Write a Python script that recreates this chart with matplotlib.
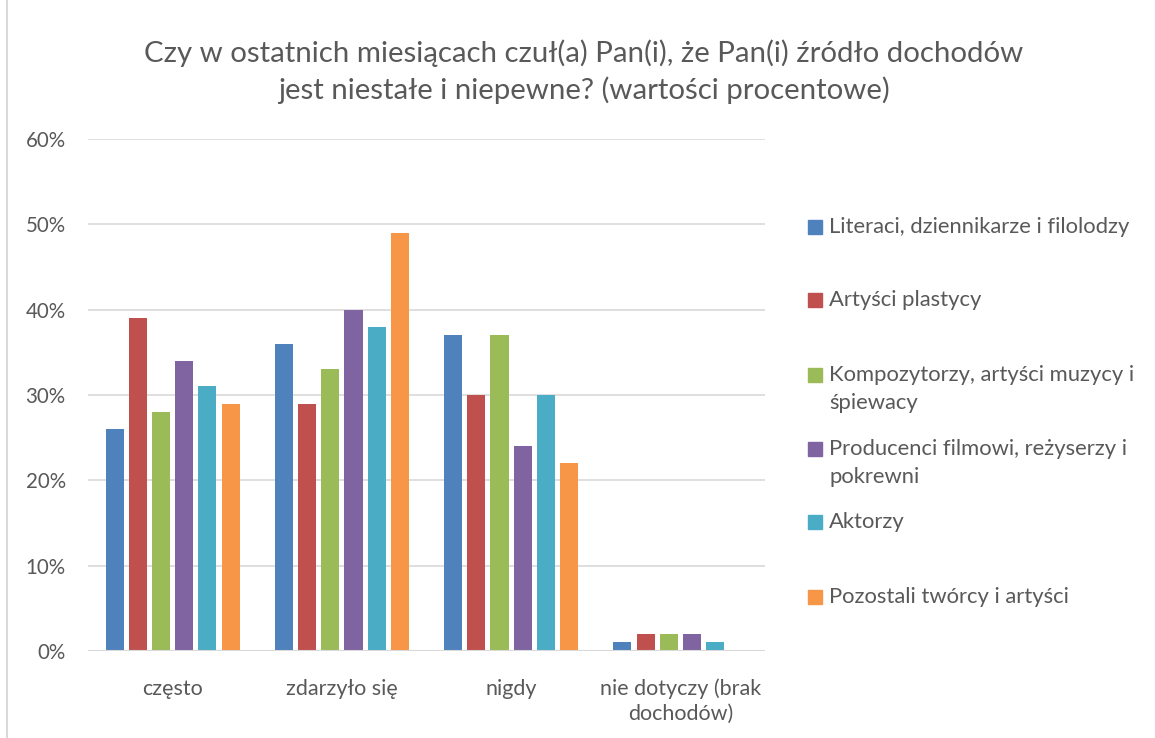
import matplotlib
matplotlib.use("Agg")
import matplotlib.pyplot as plt
import matplotlib.patches as mpatches
from matplotlib.ticker import FuncFormatter
import numpy as np

plt.rcParams['font.family'] = ['Lato', 'DejaVu Sans']

title = "Czy w ostatnich miesiącach czuł(a) Pan(i), że Pan(i) źródło dochodów\njest niestałe i niepewne? (wartości procentowe)"
categories = ["często", "zdarzyło się", "nigdy", "nie dotyczy (brak\ndochodów)"]
series = ["Literaci, dziennikarze i filolodzy",
          "Artyści plastycy",
          "Kompozytorzy, artyści muzycy i\nśpiewacy",
          "Producenci filmowi, reżyserzy i\npokrewni",
          "Aktorzy",
          "Pozostali twórcy i artyści"]
literaci = [26, 36, 37, 1]
plastycy = [39, 29, 30, 2]
muzycy = [28, 33, 37, 2]
filmowcy = [34, 40, 24, 2]
aktorzy = [31, 38, 30, 1]
pozostali = [29, 49, 22, 0]
values = [literaci, plastycy, muzycy, filmowcy, aktorzy, pozostali]
colors = ["#4F81BD", "#C0504D", "#9BBB59", "#8064A2", "#4BACC6", "#F79646"]

txt = "#595959"
grid = "#D9D9D9"

W, H = 1155, 738
fig = plt.figure(figsize=(W / 100, H / 100), dpi=100)
ax = fig.add_axes([88 / W, 1 - 651 / H, (765 - 88) / W, (651 - 139) / H])

x = np.arange(len(categories))
pitch = 0.137
width = 0.107
for i, (vals, col) in enumerate(zip(values, colors)):
    offs = (i - 2.5) * pitch
    ax.bar(x + offs, vals, width=width, color=col, zorder=3)

ax.set_xlim(-0.5, len(categories) - 0.5)
ax.set_ylim(0, 60)
ax.set_yticks(range(0, 61, 10))
ax.yaxis.set_major_formatter(FuncFormatter(lambda v, p: "%d%%" % v))
ax.set_xticks(x)
ax.set_xticklabels(categories, fontsize=15.5, color=txt, linespacing=1.3)
ax.tick_params(axis='y', labelsize=14.8, labelcolor=txt, length=0, pad=16)
ax.tick_params(axis='x', length=0, pad=20)
ax.grid(axis='y', color=grid, linewidth=1.2, zorder=0)
for s in ax.spines.values():
    s.set_visible(False)
ax.axhline(0, color=grid, linewidth=1.5, zorder=4)

fig.text(584 / W, 1 - 72 / H, title, ha='center', va='center', fontsize=21.2,
         color=txt, linespacing=1.4)

# legend drawn Excel-style: marker aligned with first text line
ys = [227, 300, 375, 449, 522, 597]
for lab, col, yy in zip(series, colors, ys):
    fig.patches.append(mpatches.Rectangle((808 / W, 1 - (yy + 7) / H), 14 / W, 14 / H,
                                          transform=fig.transFigure, color=col))
    fig.text(829 / W, 1 - (yy - 10) / H, lab, ha='left', va='top', fontsize=15.8,
             color=txt, linespacing=1.5)

# chart area border
fig.patches.append(mpatches.Rectangle((7 / W, -0.05), 1.2, 1.2, transform=fig.transFigure,
                                      fill=False, edgecolor=grid, linewidth=1.5))

fig.savefig("out.png", dpi=100)
